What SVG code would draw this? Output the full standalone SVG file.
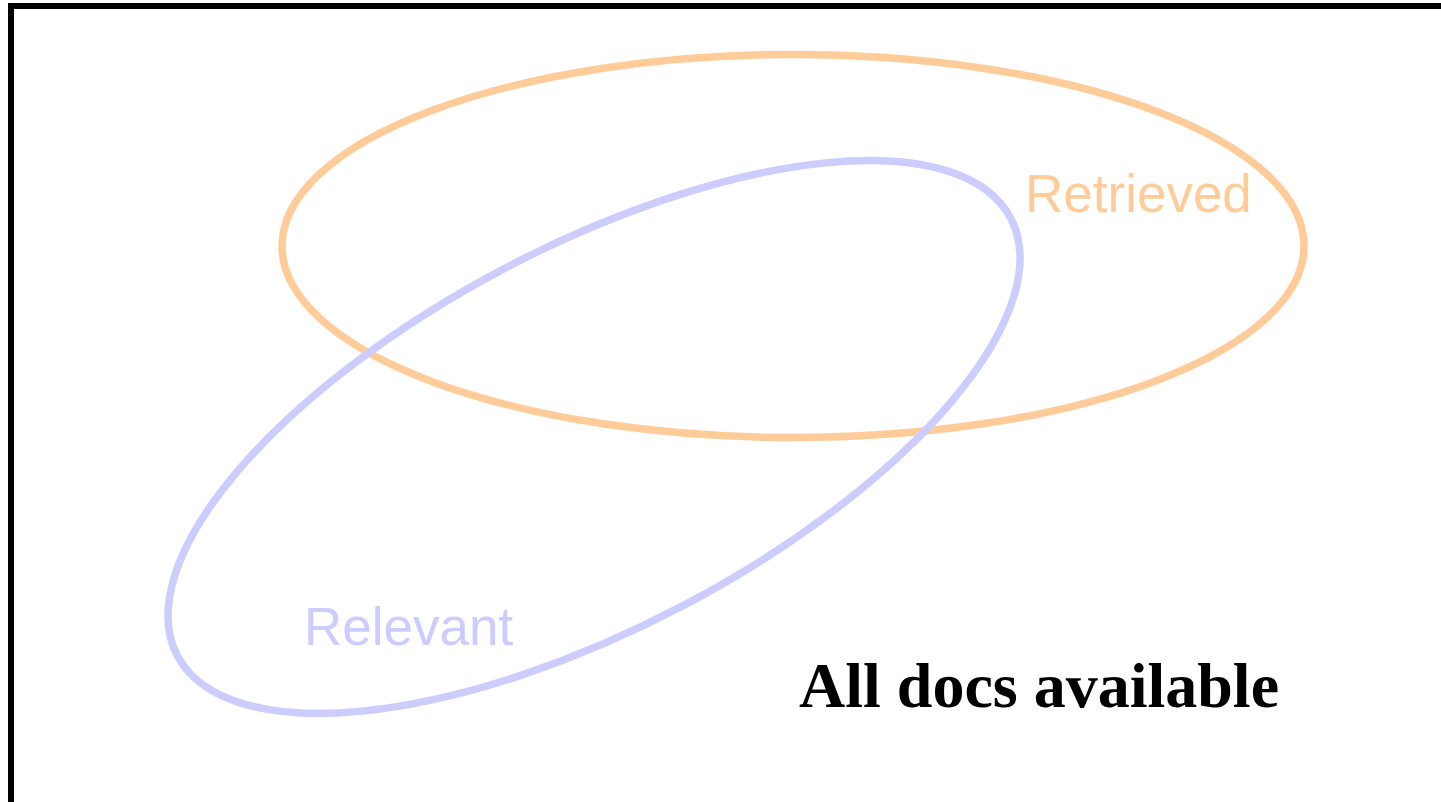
<svg xmlns="http://www.w3.org/2000/svg" width="1441" height="802" viewBox="0 0 1441 802">
<style>
.ell{fill:none;stroke-width:7.5}
.lbl{font-family:"Liberation Sans",Arial,sans-serif;font-size:53px}
</style>
<rect width="1441" height="802" fill="#ffffff"/>
<g id="frame"><rect x="11" y="6" width="1500" height="900" fill="none" stroke="#000" stroke-width="6"/></g>
<g id="retrieved">
<ellipse class="ell" cx="793" cy="246" rx="511" ry="191.5" stroke="#FFCC99"/>
<text class="lbl" x="1025" y="212" fill="#FFCC99">Retrieved</text>
</g>
<g id="relevant">
<ellipse class="ell" cx="594" cy="437" rx="470.6" ry="190.8" stroke="#CCCCFF" transform="rotate(-27.7 594 437)"/>
<text class="lbl" x="304" y="645" fill="#CCCCFF">Relevant</text>
</g>
<g id="all">
<text x="799" y="707" font-family="'Liberation Serif','Times New Roman',serif" font-weight="bold" font-size="64" fill="#000">All docs available</text>
</g>
<g id="connectors"/>
</svg>
